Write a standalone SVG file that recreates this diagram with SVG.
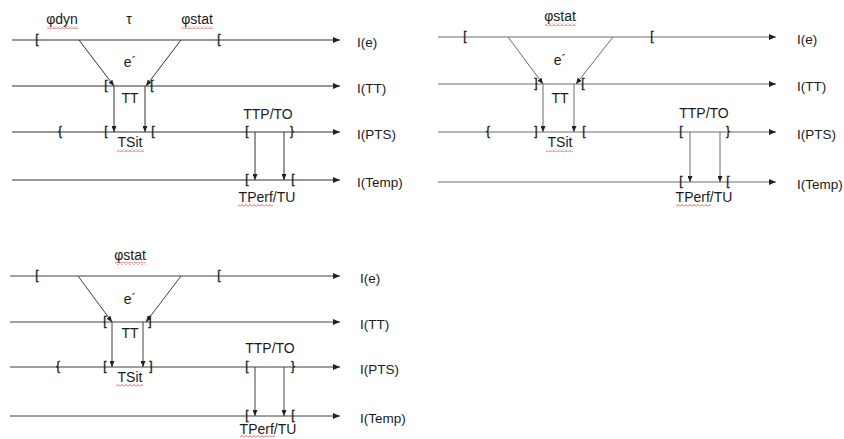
<svg xmlns="http://www.w3.org/2000/svg" width="844" height="439" viewBox="0 0 844 439">
  <style>
    text { font-family: "Liberation Sans", Arial, sans-serif; fill: #1a1a1a; }
    .lbl { font-size: 14px; text-anchor: middle; }
    .axl { font-size: 13.5px; }
    .br { font-size: 12px; text-anchor: middle; stroke: #1a1a1a; stroke-width: 0.35; }
    .axis { stroke: #333; stroke-width: 1; fill: none; marker-end: url(#axhead); }
    .link { stroke: #333; stroke-width: 1; fill: none; marker-end: url(#lnhead); }
    #panel-b .axis, #panel-b .link { stroke: #6b6b6b; }
    #panel-c .axis, #panel-c .link { stroke: #404040; }
  </style>
  <defs>
    <marker id="axhead" markerUnits="userSpaceOnUse" markerWidth="7" markerHeight="6" refX="7" refY="3" orient="auto">
      <path d="M0,0 L7,3 L0,6 z" fill="#222"/>
    </marker>
    <marker id="lnhead" markerUnits="userSpaceOnUse" markerWidth="6" markerHeight="5" refX="6" refY="2.5" orient="auto">
      <path d="M0,0 L6,2.5 L0,5 z" fill="#222"/>
    </marker>
    <!-- spell-check style wavy underline -->
    <pattern id="squiggle" patternUnits="userSpaceOnUse" width="4" height="3">
      <polyline points="0,2.5 2,0.5 4,2.5" fill="none" stroke="#e03030" stroke-width="0.8"/>
    </pattern>
  </defs>

  <!-- ===== Panel A: top left ===== -->
  <g id="panel-a">
    <g id="a-connectors">
      <line class="axis" x1="12" y1="40" x2="340" y2="40"/>
      <line class="axis" x1="12" y1="86" x2="340" y2="86"/>
      <line class="axis" x1="12" y1="132" x2="340" y2="132"/>
      <line class="axis" x1="12" y1="180" x2="340" y2="180"/>
      <line class="link" x1="79" y1="40" x2="114" y2="86"/>
      <line class="link" x1="181" y1="40" x2="146" y2="86"/>
      <line class="link" x1="114" y1="86" x2="114" y2="132"/>
      <line class="link" x1="145" y1="86" x2="145" y2="132"/>
      <line class="link" x1="255" y1="132" x2="255" y2="180"/>
      <line class="link" x1="284" y1="132" x2="284" y2="180"/>
    </g>
    <g id="a-e">
      <text class="lbl" x="62" y="24">φdyn</text>
      <rect x="47" y="26" width="31" height="3" fill="url(#squiggle)"/>
      <text class="lbl" x="129" y="24">τ</text>
      <text class="lbl" x="197" y="24">φstat</text>
      <rect x="182" y="26" width="31" height="3" fill="url(#squiggle)"/>
      <text class="br" x="37" y="43">[</text>
      <text class="br" x="219" y="43">[</text>
      <text class="lbl" x="130" y="67">e´</text>
      <text class="axl" x="357" y="47">I(e)</text>
    </g>
    <g id="a-tt">
      <text class="br" x="106" y="89">[</text>
      <text class="br" x="152" y="89">[</text>
      <text class="lbl" x="130" y="103">TT</text>
      <text class="axl" x="357" y="93">I(TT)</text>
    </g>
    <g id="a-pts">
      <text class="br" x="60" y="135">{</text>
      <text class="br" x="106" y="135">[</text>
      <text class="br" x="153" y="135">[</text>
      <text class="lbl" x="130" y="147">TSit</text>
      <rect x="117" y="149" width="27" height="3" fill="url(#squiggle)"/>
      <text class="lbl" x="268" y="119">TTP/TO</text>
      <text class="br" x="247" y="135">[</text>
      <text class="br" x="292" y="135">}</text>
      <text class="axl" x="357" y="139">I(PTS)</text>
    </g>
    <g id="a-temp">
      <text class="br" x="247" y="183">[</text>
      <text class="br" x="293" y="183">[</text>
      <text class="lbl" x="267" y="202">TPerf/TU</text>
      <rect x="238" y="204" width="35" height="3" fill="url(#squiggle)"/>
      <text class="axl" x="357" y="187">I(Temp)</text>
    </g>
  </g>

  <!-- ===== Panel B: top right ===== -->
  <g id="panel-b">
    <g id="b-connectors">
      <line class="axis" x1="438" y1="37" x2="776" y2="37"/>
      <line class="axis" x1="438" y1="84" x2="776" y2="84"/>
      <line class="axis" x1="438" y1="132" x2="776" y2="132"/>
      <line class="axis" x1="438" y1="182" x2="776" y2="182"/>
      <line class="link" x1="508" y1="37" x2="543" y2="84"/>
      <line class="link" x1="613" y1="37" x2="576" y2="84"/>
      <line class="link" x1="543" y1="84" x2="543" y2="132"/>
      <line class="link" x1="574" y1="84" x2="574" y2="132"/>
      <line class="link" x1="690" y1="132" x2="690" y2="182"/>
      <line class="link" x1="720" y1="132" x2="720" y2="182"/>
    </g>
    <g id="b-e">
      <text class="lbl" x="560" y="21">φstat</text>
      <rect x="545" y="23" width="31" height="3" fill="url(#squiggle)"/>
      <text class="br" x="465" y="40">[</text>
      <text class="br" x="652" y="40">[</text>
      <text class="lbl" x="560" y="65">e´</text>
      <text class="axl" x="797" y="44">I(e)</text>
    </g>
    <g id="b-tt">
      <text class="br" x="536" y="87">]</text>
      <text class="br" x="583" y="87">[</text>
      <text class="lbl" x="560" y="103">TT</text>
      <text class="axl" x="797" y="91">I(TT)</text>
    </g>
    <g id="b-pts">
      <text class="br" x="488" y="135">{</text>
      <text class="br" x="536" y="135">]</text>
      <text class="br" x="584" y="135">[</text>
      <text class="lbl" x="560" y="147">TSit</text>
      <rect x="546" y="149" width="27" height="3" fill="url(#squiggle)"/>
      <text class="lbl" x="704" y="118">TTP/TO</text>
      <text class="br" x="681" y="135">[</text>
      <text class="br" x="728" y="135">}</text>
      <text class="axl" x="797" y="139">I(PTS)</text>
    </g>
    <g id="b-temp">
      <text class="br" x="681" y="185">[</text>
      <text class="br" x="728" y="185">[</text>
      <text class="lbl" x="704" y="202">TPerf/TU</text>
      <rect x="676" y="204" width="35" height="3" fill="url(#squiggle)"/>
      <text class="axl" x="797" y="189">I(Temp)</text>
    </g>
  </g>

  <!-- ===== Panel C: bottom left ===== -->
  <g id="panel-c">
    <g id="c-connectors">
      <line class="axis" x1="10" y1="276" x2="340" y2="276"/>
      <line class="axis" x1="10" y1="322" x2="340" y2="322"/>
      <line class="axis" x1="10" y1="367" x2="340" y2="367"/>
      <line class="axis" x1="10" y1="416" x2="340" y2="416"/>
      <line class="link" x1="78" y1="276" x2="112" y2="322"/>
      <line class="link" x1="181" y1="276" x2="146" y2="322"/>
      <line class="link" x1="112" y1="322" x2="112" y2="367"/>
      <line class="link" x1="143" y1="322" x2="143" y2="367"/>
      <line class="link" x1="255" y1="367" x2="255" y2="416"/>
      <line class="link" x1="284" y1="367" x2="284" y2="416"/>
    </g>
    <g id="c-e">
      <text class="lbl" x="130" y="260">φstat</text>
      <rect x="115" y="262" width="31" height="3" fill="url(#squiggle)"/>
      <text class="br" x="37" y="279">[</text>
      <text class="br" x="219" y="279">[</text>
      <text class="lbl" x="130" y="304">e´</text>
      <text class="axl" x="360" y="283">I(e)</text>
    </g>
    <g id="c-tt">
      <text class="br" x="105" y="325">[</text>
      <text class="br" x="150" y="325">]</text>
      <text class="lbl" x="130" y="338">TT</text>
      <text class="axl" x="360" y="329">I(TT)</text>
    </g>
    <g id="c-pts">
      <text class="br" x="58" y="370">{</text>
      <text class="br" x="105" y="370">[</text>
      <text class="br" x="151" y="370">]</text>
      <text class="lbl" x="130" y="382">TSit</text>
      <rect x="116" y="384" width="27" height="3" fill="url(#squiggle)"/>
      <text class="lbl" x="270" y="353">TTP/TO</text>
      <text class="br" x="247" y="370">[</text>
      <text class="br" x="293" y="370">}</text>
      <text class="axl" x="360" y="374">I(PTS)</text>
    </g>
    <g id="c-temp">
      <text class="br" x="247" y="419">[</text>
      <text class="br" x="293" y="419">[</text>
      <text class="lbl" x="268" y="434">TPerf/TU</text>
      <rect x="240" y="435" width="35" height="3" fill="url(#squiggle)"/>
      <text class="axl" x="360" y="423">I(Temp)</text>
    </g>
  </g>
</svg>
